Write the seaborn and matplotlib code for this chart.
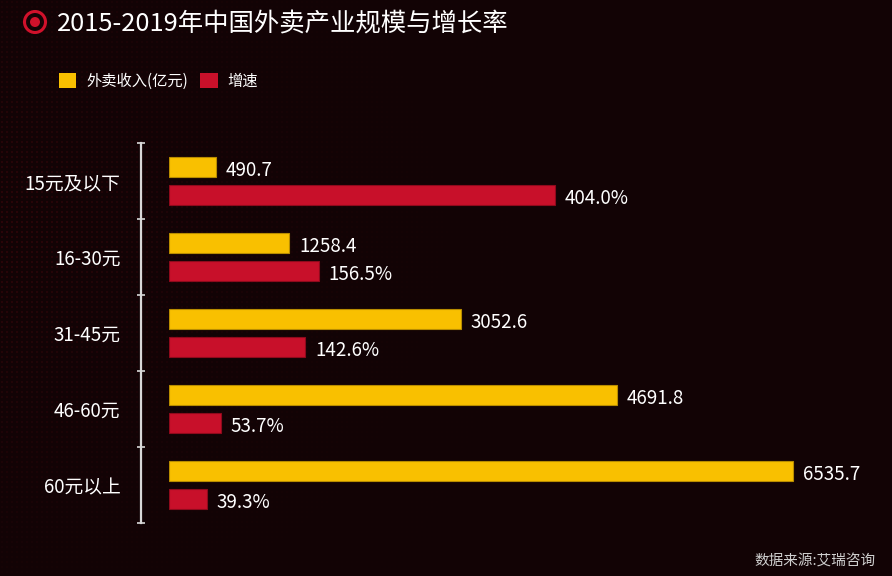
import matplotlib
matplotlib.use('Agg')
import matplotlib.pyplot as plt
from matplotlib.patches import Circle, Patch
import numpy as np
import pandas as pd
import seaborn as sns

# data
categories = ['15元及以下', '16-30元', '31-45元', '46-60元', '60元以上']
revenue = [490.7, 1258.4, 3052.6, 4691.8, 6535.7]
growth = [404.0, 156.5, 142.6, 53.7, 39.3]
series = ['外卖收入(亿元)', '增速']

bg = '#120305'
palette = {'外卖收入(亿元)': '#F9C000', '增速': '#C8102A'}
edges = {'外卖收入(亿元)': '#B88C00', '增速': '#8E0A1C'}

sns.set_theme(style='white')
plt.rcParams['font.family'] = ['Noto Sans CJK SC', 'DejaVu Sans']

df_rev = pd.DataFrame({'档位': categories, '值': revenue, '系列': series[0]})
df_gr = pd.DataFrame({'档位': categories, '值': growth, '系列': series[1]})

fig = plt.figure(figsize=(8.92, 5.76), dpi=100, facecolor=bg)

# faint red dot-matrix texture behind the chart, fading to the right
bgax = fig.add_axes([0, 0, 1, 1], zorder=-10)
bgax.set_facecolor(bg)
bgax.set_xlim(0, 892)
bgax.set_ylim(576, 0)
bgax.axis('off')
gx, gy = np.meshgrid(np.arange(2, 600, 5), np.arange(2, 576, 5))
fade = np.clip(1 - gx / 600, 0, 1) ** 1.8 * np.clip(1 - np.abs(gy - 230) / 420, 0, 1)
dot_colors = np.zeros((fade.size, 4))
dot_colors[:, 0], dot_colors[:, 1], dot_colors[:, 2] = 0.7, 0.06, 0.12
dot_colors[:, 3] = 0.3 * fade.ravel()
bgax.scatter(gx.ravel(), gy.ravel(), s=1.4, facecolors=dot_colors,
             linewidths=0, edgecolors='none')

ax = fig.add_axes([169.3 / 892, 1 - 523 / 576, 1 - 169.3 / 892 - 0.02, 380 / 576])
ax.set_facecolor('none')
ax2 = ax.twiny()

sns.barplot(data=df_rev, y='档位', x='值', hue='系列', hue_order=series,
            palette=palette, saturation=1, width=0.72, gap=0.264, dodge=True,
            ax=ax, legend=False, edgecolor=edges[series[0]], linewidth=0.8,
            errorbar=None)
sns.barplot(data=df_gr, y='档位', x='值', hue='系列', hue_order=series,
            palette=palette, saturation=1, width=0.72, gap=0.264, dodge=True,
            ax=ax2, legend=False, edgecolor=edges[series[1]], linewidth=0.8,
            errorbar=None)

# growth is drawn on a scale ten times finer than revenue
xmax = (892 * (1 - 0.02) - 169.3) / 0.0955
ax.set_xlim(0, xmax)
ax2.set_xlim(0, xmax / 10)
ax.set_ylim(4.5, -0.5)

for a, fmt in ((ax, '{:.1f}'), (ax2, '{:.1f}%')):
    for cont in a.containers:
        vals = [b.get_width() for b in cont]
        if all(v != v for v in vals):
            continue
        texts = a.bar_label(cont, labels=[fmt.format(v) for v in vals],
                            padding=7, color='white', fontsize=13.5)
        for t in texts:
            t.xyann = (t.xyann[0], -2.5)

for a in (ax, ax2):
    a.set_xlabel('')
    a.set_ylabel('')
    a.xaxis.set_visible(False)
    for s in ('top', 'right', 'bottom'):
        a.spines[s].set_visible(False)
ax2.spines['left'].set_visible(False)

ax.spines['left'].set_position(('outward', 28 * 0.72))
ax.spines['left'].set_color('#D8D8D8')
ax.spines['left'].set_linewidth(1.6)
ax.set_yticks(range(len(categories)))
ax.set_yticklabels(categories)
ax.set_yticks([i - 0.5 for i in range(len(categories) + 1)], minor=True)
ax.tick_params(axis='y', which='major', length=0, pad=15, labelsize=13.5,
               labelcolor='white')
ax.tick_params(axis='y', which='minor', direction='inout', length=6,
               width=1.2, color='#D8D8D8', left=True)

# title with the round icon (drawn in inches so it stays round)
fig.patches.append(Circle((0.35, 5.76 - 0.22), 0.105, transform=fig.dpi_scale_trans,
                          facecolor='none', edgecolor='#D0112B', linewidth=2.2))
fig.patches.append(Circle((0.35, 5.76 - 0.22), 0.05, transform=fig.dpi_scale_trans,
                          facecolor='#D0112B', edgecolor='none'))
fig.text(57 / 892, 1 - 24 / 576, '2015-2019年中国外卖产业规模与增长率', color='white',
         fontsize=18.3, va='center', ha='left')

handles = [Patch(facecolor=palette[s], edgecolor='none') for s in series]
fig.legend(handles, series, loc='center left', bbox_to_anchor=(45 / 892, 1 - 81 / 576),
           ncol=2, frameon=False, fontsize=11, labelcolor='white',
           handlelength=1.15, handleheight=1.15, handletextpad=0.65, columnspacing=0.8)

fig.text(876 / 892, 1 - 561 / 576, '数据来源:艾瑞咨询', color='#CFCFCF', fontsize=10.5,
         ha='right', va='center')

fig.savefig('out.png', dpi=100, facecolor=bg)
